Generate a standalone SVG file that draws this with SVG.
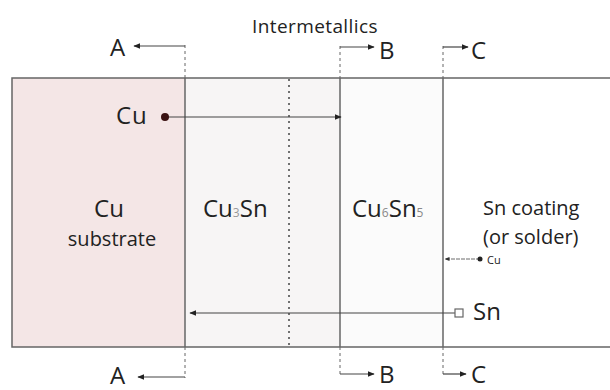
<svg xmlns="http://www.w3.org/2000/svg" width="610" height="390" viewBox="0 0 610 390">
<defs>
<marker id="ah" viewBox="0 0 10 10" refX="9" refY="5" markerWidth="7" markerHeight="7" markerUnits="userSpaceOnUse" orient="auto">
<path d="M0,1 L10,5 L0,9 Z" fill="#222"/>
</marker>
<marker id="ahs" viewBox="0 0 10 10" refX="9" refY="5" markerWidth="5" markerHeight="5" markerUnits="userSpaceOnUse" orient="auto">
<path d="M0,1 L10,5 L0,9 Z" fill="#333"/>
</marker>
</defs>
<style>
text{font-family:"Open Sans","DejaVu Sans",sans-serif;fill:#222}
.big{font-size:24px}
.lbl{font-size:24px}
.solid{stroke:#666;stroke-width:1.5;fill:none}
.dash{stroke:#666;stroke-width:1;stroke-dasharray:3,3;fill:none}
.dot{stroke:#444;stroke-width:1.5;stroke-dasharray:2,4;fill:none}
.arr{stroke:#444;stroke-width:1.2;fill:none}
</style>
<rect width="610" height="390" fill="#fff"/>
<g id="substrate">
<rect x="12" y="78" width="173" height="269" fill="#f4e6e6"/>
<text class="big" x="109" y="217" text-anchor="middle">Cu</text>
<text x="112" y="246" text-anchor="middle" font-size="20">substrate</text>
</g>
<g id="cu3sn">
<rect x="185" y="78" width="155" height="269" fill="#f7f5f5"/>
<text class="big" x="203" y="217">Cu<tspan font-size="12" fill="#999">3</tspan>Sn</text>
</g>
<g id="cu6sn5">
<rect x="340" y="78" width="103" height="269" fill="#fbfbfb"/>
<text class="big" x="352" y="217">Cu<tspan font-size="12" fill="#888">6</tspan>Sn<tspan font-size="12" fill="#888">5</tspan></text>
</g>
<g id="sn">
<text x="483" y="215" font-size="20">Sn coating</text>
<text x="483" y="244" font-size="20">(or solder)</text>
</g>
<g id="frame">
<path class="solid" d="M610,78 H12 V347 H610"/>
<text x="252" y="33" font-size="19" letter-spacing="0.4">Intermetallics</text>
</g>
<g id="connectors">
<path class="solid" d="M185,78 V347" stroke="#888"/>
<path class="dash" d="M185,45 V78 M185,347 V378"/>
<path class="dot" d="M289,79 V347"/>
<path class="solid" d="M340,78 V347"/>
<path class="dash" d="M340,46 V78 M340,347 V375"/>
<path class="solid" d="M443,78 V347"/>
<path class="dash" d="M443,46 V78 M443,347 V375"/>
<path class="arr" d="M185,46 H134" marker-end="url(#ah)"/>
<path class="arr" d="M340,47 H374" marker-end="url(#ah)"/>
<path class="arr" d="M443,47 H468" marker-end="url(#ah)"/>
<path class="arr" d="M185,377 H138" marker-end="url(#ah)"/>
<path class="arr" d="M340,374 H374" marker-end="url(#ah)"/>
<path class="arr" d="M443,374 H466" marker-end="url(#ah)"/>
<path class="arr" d="M165,117 H341" marker-end="url(#ah)"/>
<circle cx="165" cy="117" r="4" fill="#3a1212"/>
<path class="arr" d="M455,313 H190" marker-end="url(#ah)"/>
<rect x="455" y="309" width="8" height="8" fill="#fff" stroke="#666" stroke-width="1.2"/>
<path d="M480,259 H445" stroke="#444" stroke-width="0.8" stroke-dasharray="4,1" marker-end="url(#ahs)"/>
<circle cx="480" cy="259" r="2.5" fill="#222"/>
</g>
<g id="labels">
<text class="lbl" x="110" y="56">A</text>
<text class="lbl" x="379" y="59">B</text>
<text class="lbl" x="471" y="59">C</text>
<text class="lbl" x="110" y="384">A</text>
<text class="lbl" x="379" y="383">B</text>
<text class="lbl" x="471" y="383">C</text>
<text class="lbl" x="116" y="124" letter-spacing="1">Cu</text>
<text class="lbl" x="473" y="320">Sn</text>
<text x="487" y="264" font-size="11">Cu</text>
</g>
</svg>
